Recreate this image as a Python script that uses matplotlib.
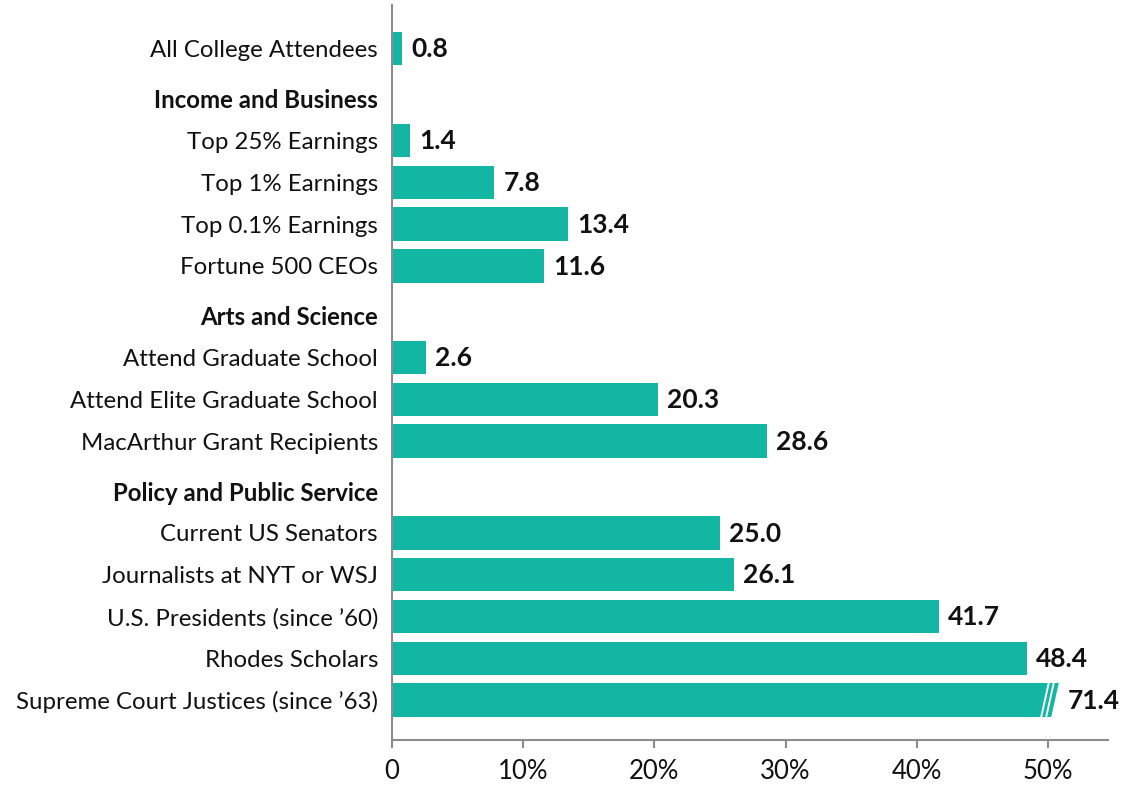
import matplotlib
matplotlib.use('Agg')
import matplotlib.pyplot as plt
import numpy as np

plt.rcParams['font.family'] = ['Lato', 'DejaVu Sans']

# rows in display order; None value marks a group header
labels = ['All College Attendees',
          'Income and Business',
          'Top 25% Earnings', 'Top 1% Earnings', 'Top 0.1% Earnings', 'Fortune 500 CEOs',
          'Arts and Science',
          'Attend Graduate School', 'Attend Elite Graduate School', 'MacArthur Grant Recipients',
          'Policy and Public Service',
          'Current US Senators', 'Journalists at NYT or WSJ', 'U.S. Presidents (since \u201960)',
          'Rhodes Scholars', 'Supreme Court Justices (since \u201963)']
values = [0.8, None, 1.4, 7.8, 13.4, 11.6, None, 2.6, 20.3, 28.6, None,
          25.0, 26.1, 41.7, 48.4, 71.4]
xticks = [0, 10, 20, 30, 40, 50]
xtick_labels = ['0', '10%', '20%', '30%', '40%', '50%']

teal = '#13b5a3'
grey = '#8c8c8c'
cap = 50.84      # where the broken bar is cut
header_gap = 0.2
bar_h = 0.8

# row positions, with a little extra room above each header
pos = []
y = 0.0
for i, v in enumerate(values):
    if i > 0:
        y += 1 + (header_gap if v is None else 0)
    pos.append(y)
pos = np.array(pos)

fig = plt.figure(figsize=(11.28, 7.87), dpi=100)
ax = fig.add_axes([0.3475, 0.0597, 0.6345, 0.934])

bar_idx = [i for i, v in enumerate(values) if v is not None]
bar_vals = np.array([values[i] for i in bar_idx])
ax.barh(pos[bar_idx], np.minimum(bar_vals, cap), height=bar_h, color=teal, zorder=2)

for i, v in zip(bar_idx, bar_vals):
    ax.annotate(f'{v:.1f}', (min(v, cap), pos[i]), xytext=(6.5, -0.5), textcoords='offset points',
                va='center', ha='left', fontsize=19, fontweight='bold', color='#111111', zorder=5)

# break marks on bars that run past the axis
s = 0.61
for i, v in zip(bar_idx, bar_vals):
    if v <= cap:
        continue
    top, bot = pos[i] - bar_h / 2 - 0.03, pos[i] + bar_h / 2 + 0.03
    for x0, x1 in [(50.0, 50.15), (50.38, 50.53), (cap, cap + 0.7)]:
        ax.fill([x0, x1, x1 - s, x0 - s], [top, top, bot, bot], color='white', lw=0, zorder=3)

ax.set_xlim(0, 54.55)
ax.set_ylim(pos[-1] + 0.96, -1.05)
ax.set_xticks(xticks)
ax.set_xticklabels(xtick_labels)
ax.set_yticks(pos)
ax.set_yticklabels(labels)
for i, t in enumerate(ax.get_yticklabels()):
    if values[i] is None:
        t.set_fontweight('bold')
        t.set_fontsize(18.8)

ax.tick_params(axis='y', length=0, pad=10, labelsize=17.3, labelcolor='#111111')
ax.tick_params(axis='x', length=6, width=1.5, color=grey, pad=8, labelsize=18.5, labelcolor='#111111')
for side in ['top', 'right']:
    ax.spines[side].set_visible(False)
for side in ['left', 'bottom']:
    ax.spines[side].set_color(grey)
    ax.spines[side].set_linewidth(1.5)

fig.savefig('out.png', dpi=100)
